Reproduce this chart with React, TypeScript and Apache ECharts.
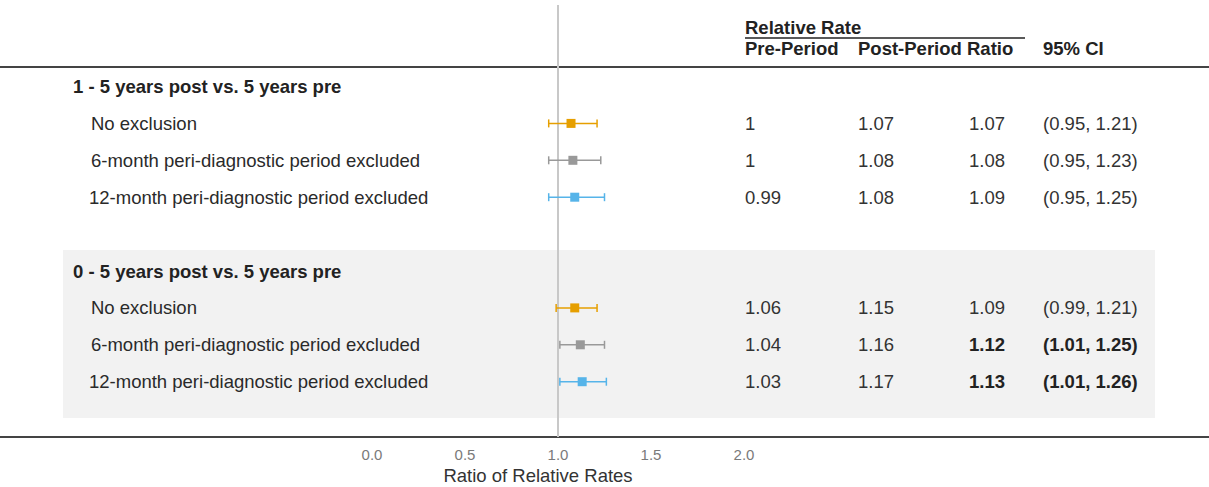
import React, { useEffect, useRef } from "react";
import * as echarts from "echarts";

// ---- data ----
const groupLabels = ["1 - 5 years post vs. 5 years pre", "0 - 5 years post vs. 5 years pre"];
const exclusionLabels = [
  "No exclusion",
  "6-month peri-diagnostic period excluded",
  "12-month peri-diagnostic period excluded",
];
const prePeriod = ["1", "1", "0.99", "1.06", "1.04", "1.03"];
const postPeriod = ["1.07", "1.08", "1.08", "1.15", "1.16", "1.17"];
const ratio = [1.07, 1.08, 1.09, 1.09, 1.12, 1.13];
const ciLow = [0.95, 0.95, 0.95, 0.99, 1.01, 1.01];
const ciHigh = [1.21, 1.23, 1.25, 1.21, 1.25, 1.26];
const significant = [false, false, false, false, true, true];
const xTicks = [0, 0.5, 1, 1.5, 2];
const columnHeaders = ["Pre-Period", "Post-Period", "Ratio", "95% CI"];
const spanHeader = "Relative Rate";
const axisTitle = "Ratio of Relative Rates";

// ---- style / layout ----
const markerColors = ["#E69F00", "#999999", "#56B4E9"];
const FONT = "Liberation Sans, Arial, sans-serif";
const FS = 18.5;
const TEXT = "#222222";
const W = 1209;
const H = 487;
const ROW0_Y = 86.5;
const ROW_H = 36.9;
const GRID_TOP = 5;
const GRID_BOTTOM = 437;
const COL_X = [745, 858, 969, 1043];

export default function App() {
  const ref = useRef<HTMLDivElement>(null);

  useEffect(() => {
    if (!ref.current) return;
    const chart = echarts.init(ref.current, undefined, { renderer: "svg" });

    const forestData: number[][] = [];
    const tableData: number[][] = [];
    groupLabels.forEach((_, g) => {
      tableData.push([0, g * 5, -1, g]);
      exclusionLabels.forEach((__, i) => {
        const k = g * 3 + i;
        const row = g * 5 + 1 + i;
        forestData.push([row, ciLow[k], ratio[k], ciHigh[k], i]);
        tableData.push([0, row, k, i]);
      });
    });

    const yMin = (GRID_TOP - ROW0_Y) / ROW_H;
    const yMax = (GRID_BOTTOM - ROW0_Y) / ROW_H;

    const txt = (text: string, x: number, y: number, bold: boolean, extra: any = {}) => ({
      type: "text",
      x,
      y,
      style: {
        text,
        fill: TEXT,
        fontSize: FS,
        fontFamily: FONT,
        fontWeight: bold ? "bold" : "normal",
        align: "left",
        verticalAlign: "middle",
        ...extra,
      },
    });

    chart.setOption({
      animation: false,
      grid: { left: 372, width: 372, top: GRID_TOP, height: GRID_BOTTOM - GRID_TOP },
      xAxis: {
        type: "value",
        min: xTicks[0],
        max: xTicks[xTicks.length - 1],
        interval: 0.5,
        axisLine: { show: false },
        axisTick: { show: false },
        splitLine: { show: false },
        axisLabel: {
          formatter: (v: number) => v.toFixed(1),
          color: "#7a7a7a",
          fontSize: 15,
          fontFamily: FONT,
          margin: 10,
        },
      },
      yAxis: { type: "value", inverse: true, min: yMin, max: yMax, show: false },
      graphic: [
        {
          type: "rect",
          z: -100,
          shape: { x: 63, y: 250, width: 1092, height: 168 },
          style: { fill: "#f2f2f2" },
        },
        { type: "line", shape: { x1: 0, y1: 67, x2: W, y2: 67 }, style: { stroke: "#444", lineWidth: 2 } },
        { type: "line", shape: { x1: 0, y1: 437, x2: W, y2: 437 }, style: { stroke: "#444", lineWidth: 2 } },
        { type: "line", shape: { x1: 745, y1: 38, x2: 1025, y2: 38 }, style: { stroke: "#222", lineWidth: 1.5 } },
        txt(spanHeader, 745, 27, true),
        ...columnHeaders.map((h, i) => txt(h, i === 2 ? 967 : COL_X[i], 48, true)),
        txt(axisTitle, 538, 475, false, { align: "center", fill: "#333" }),
      ],
      series: [
        {
          type: "custom",
          name: "table",
          clip: false,
          z: 3,
          encode: { x: 0, y: 1 },
          data: tableData,
          renderItem: (params: any, api: any) => {
            const row = api.value(1);
            const k = api.value(2);
            const i = api.value(3);
            const y = api.coord([0, row])[1];
            if (k < 0) {
              return { type: "group", children: [txt(groupLabels[i], 73, y, true)] };
            }
            const sig = significant[k];
            return {
              type: "group",
              children: [
                txt(exclusionLabels[i], i === 2 ? 89 : 91, y, false, { fill: "#2a2a2a" }),
                txt(prePeriod[k], COL_X[0], y, false, { fill: "#333" }),
                txt(postPeriod[k], COL_X[1], y, false, { fill: "#333" }),
                txt(ratio[k].toFixed(2), COL_X[2], y, sig, { fill: sig ? TEXT : "#333" }),
                txt(
                  "(" + ciLow[k].toFixed(2) + ", " + ciHigh[k].toFixed(2) + ")",
                  COL_X[3],
                  y,
                  sig,
                  { fill: sig ? TEXT : "#333" }
                ),
              ],
            };
          },
        },
        {
          type: "custom",
          name: "forest",
          clip: false,
          z: 4,
          encode: { x: [1, 2, 3], y: 0 },
          data: forestData,
          markLine: {
            silent: true,
            symbol: "none",
            label: { show: false },
            lineStyle: { color: "#c8c8c8", width: 2, type: "solid" },
            data: [{ xAxis: 1 }],
            z: 1,
          },
          renderItem: (params: any, api: any) => {
            const row = api.value(0);
            const pLo = api.coord([api.value(1), row]);
            const pE = api.coord([api.value(2), row]);
            const pHi = api.coord([api.value(3), row]);
            const color = markerColors[api.value(4)];
            const cap = 4;
            const half = 4.5;
            return {
              type: "group",
              children: [
                { type: "line", shape: { x1: pLo[0], y1: pLo[1], x2: pHi[0], y2: pHi[1] }, style: { stroke: color, lineWidth: 1.5 } },
                { type: "line", shape: { x1: pLo[0], y1: pLo[1] - cap, x2: pLo[0], y2: pLo[1] + cap }, style: { stroke: color, lineWidth: 1.5 } },
                { type: "line", shape: { x1: pHi[0], y1: pHi[1] - cap, x2: pHi[0], y2: pHi[1] + cap }, style: { stroke: color, lineWidth: 1.5 } },
                { type: "rect", shape: { x: pE[0] - half, y: pE[1] - half, width: half * 2, height: half * 2 }, style: { fill: color } },
              ],
            };
          },
        },
      ],
    });

    return () => chart.dispose();
  }, []);

  return (
    <div
      ref={ref}
      style={{ position: "absolute", left: 0, top: 0, width: W, height: H, background: "#fff" }}
    />
  );
}
